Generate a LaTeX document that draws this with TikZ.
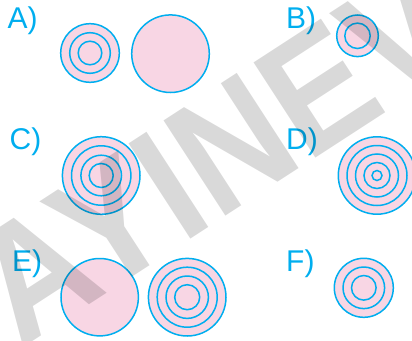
\documentclass[tikz,border=0pt]{standalone}
\usepackage{fontspec}
\setmainfont{Liberation Sans}
\newfontfamily\markfont{Liberation Sans}
\definecolor{ringBlue}{HTML}{00AEEF}
\definecolor{discPink}{HTML}{F8D6E4}
\tikzset{
  disc/.style={draw=ringBlue,fill=discPink,line width=1.5pt},
  ring/.style={draw=ringBlue,line width=1.5pt},
  optlabel/.style={text=ringBlue,font=\fontsize{30}{30}\selectfont,anchor=base west,inner sep=0pt}
}
\begin{document}
\begin{tikzpicture}[x=1pt,y=-1pt]
  \useasboundingbox (0,0) rectangle (412,340);
  % option labels
  \node[optlabel] (labA) at (7.5,28.5) {A)};
  \node[optlabel] (labB) at (286,28.5) {B)};
  \node[optlabel] (labC) at (9.5,149) {C)};
  \node[optlabel] (labD) at (286,149) {D)};
  \node[optlabel] (labE) at (12,271.5) {E)};
  \node[optlabel] (labF) at (286,271.5) {F)};
  % A
  \draw[disc] (90,53) circle (29.3);
  \foreach \r in {20.3,11.8} \draw[ring] (90,53) circle (\r);
  \draw[disc] (170.5,53.7) circle (38.8);
  % B
  \draw[disc] (357.5,35.8) circle (20.8);
  \draw[ring] (357.5,35.8) circle (12.7);
  % C
  \draw[disc] (101.2,175.5) circle (38.8);
  \foreach \r in {29.7,20.3,12} \draw[ring] (101.2,175.5) circle (\r);
  % D
  \draw[disc] (377,175.5) circle (38.7);
  \foreach \r in {30,21.5,13,5} \draw[ring] (377,175.5) circle (\r);
  % E
  \draw[disc] (99.7,297.2) circle (38.7);
  \draw[disc] (187.2,297.2) circle (38.8);
  \foreach \r in {30,21.2,12.5} \draw[ring] (187.2,297.2) circle (\r);
  % F
  \draw[disc] (363.8,287.8) circle (29.5);
  \foreach \r in {20.8,12.3} \draw[ring] (363.8,287.8) circle (\r);
  % watermark
  \node[rotate=33,xscale=0.9,anchor=base west,inner sep=0pt,text=black,opacity=0.15,
        font=\markfont\bfseries\fontsize{165}{165}\selectfont] (mark) at (20.7,349.2) {AYINEV};
\end{tikzpicture}
\end{document}
